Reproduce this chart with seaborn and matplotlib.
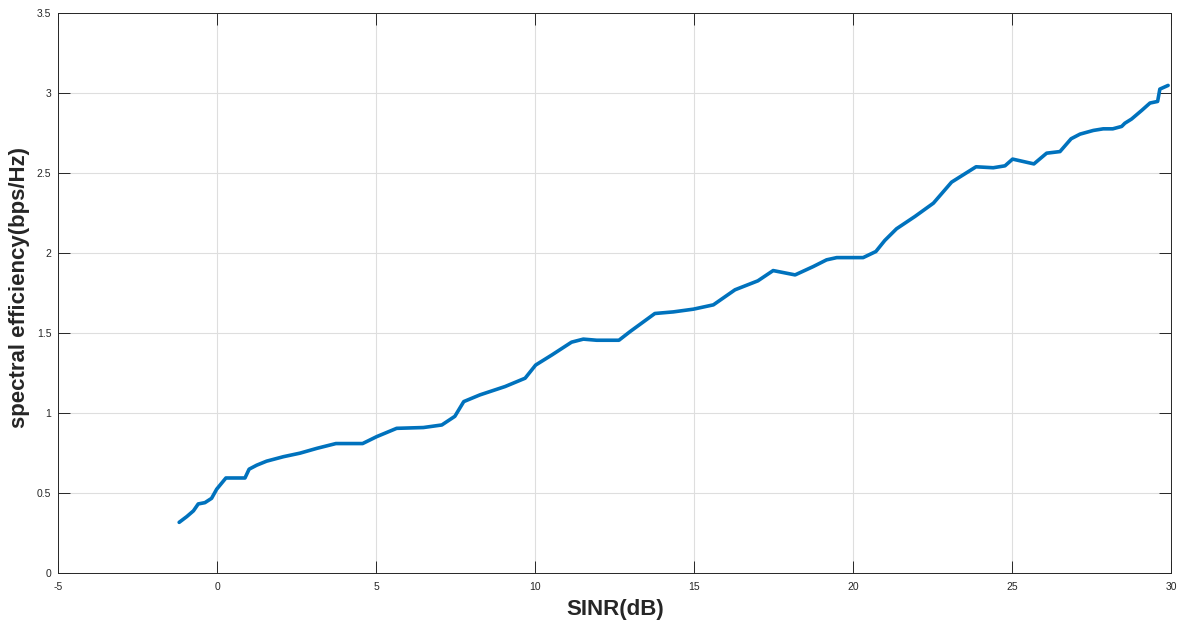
import matplotlib
matplotlib.use("Agg")
import matplotlib.pyplot as plt
import numpy as np
import pandas as pd
import seaborn as sns

# SINR sweep (dB) and the resulting spectral efficiency (bps/Hz)
sinr_db = [-1.2, -0.96, -0.75, -0.6, -0.39, -0.18, -0.02, 0.27, 0.87, 1.0, 1.24, 1.55,
           2.08, 2.6, 3.13, 3.73, 4.57, 5.01, 5.64, 6.48, 7.06, 7.47, 7.75, 8.26, 9.05,
           9.68, 10.01, 10.52, 11.14, 11.51, 11.93, 12.63, 12.98, 13.76, 14.34, 14.97,
           15.6, 16.28, 17.0, 17.48, 18.17, 18.74, 19.16, 19.48, 20.31, 20.71, 20.99,
           21.36, 21.94, 22.52, 23.09, 23.86, 24.4, 24.77, 25.01, 25.68, 26.08, 26.5,
           26.85, 27.13, 27.55, 27.86, 28.16, 28.44, 28.54, 28.75, 29.07, 29.33, 29.57,
           29.64, 29.9]
spectral_eff = [0.318, 0.354, 0.39, 0.433, 0.441, 0.468, 0.525, 0.595, 0.595, 0.65,
                0.675, 0.70, 0.728, 0.75, 0.78, 0.81, 0.81, 0.853, 0.905, 0.91, 0.926,
                0.98, 1.072, 1.114, 1.166, 1.218, 1.30, 1.363, 1.443, 1.462, 1.455,
                1.455, 1.509, 1.622, 1.632, 1.649, 1.676, 1.77, 1.826, 1.89, 1.863,
                1.915, 1.957, 1.971, 1.971, 2.009, 2.078, 2.151, 2.228, 2.311, 2.442,
                2.538, 2.532, 2.544, 2.586, 2.556, 2.623, 2.633, 2.713, 2.742, 2.765,
                2.775, 2.775, 2.79, 2.81, 2.836, 2.89, 2.936, 2.946, 3.023, 3.046]

x_ticks = [-5, 0, 5, 10, 15, 20, 25, 30]
y_ticks = [0, 0.5, 1, 1.5, 2, 2.5, 3, 3.5]

df = pd.DataFrame({"SINR": sinr_db, "SE": spectral_eff})

sns.set_style("whitegrid")
plt.rcParams["font.family"] = ["Liberation Sans", "DejaVu Sans"]

fig = plt.figure(figsize=(11.78, 6.23), dpi=100)
ax = fig.add_axes([0.0495, 0.0798, 0.9448, 0.8998])

sns.lineplot(data=df, x="SINR", y="SE", ax=ax, color="#0072BD", linewidth=2.6,
             estimator=None, sort=False)

ax.set_xlim(-5, 30)
ax.set_ylim(0, 3.5)
ax.set_xticks(x_ticks)
ax.set_yticks(y_ticks)
ax.set_xticklabels([f"{t:g}" for t in x_ticks])
ax.set_yticklabels([f"{t:g}" for t in y_ticks])

ax.grid(True, color="#dedede", linewidth=0.8)
for side in ["left", "right", "top", "bottom"]:
    ax.spines[side].set_visible(True)
    ax.spines[side].set_color("#262626")
    ax.spines[side].set_linewidth(0.7)

ax.tick_params(axis="both", which="both", direction="in", length=8.5, width=0.7,
               color="#262626", labelsize=7.5, labelcolor="#262626",
               top=True, right=True, bottom=True, left=True)
ax.tick_params(axis="x", pad=6)
ax.tick_params(axis="y", pad=5)

ax.set_xlabel("SINR(dB)", fontsize=16, fontweight="bold", color="#262626")
ax.set_ylabel("spectral efficiency(bps/Hz)", fontsize=16, fontweight="bold",
              color="#262626")
ax.xaxis.set_label_coords(0.5, -0.046)
ax.yaxis.set_label_coords(-0.0255, 0.51)

fig.savefig("out.png", dpi=100)
